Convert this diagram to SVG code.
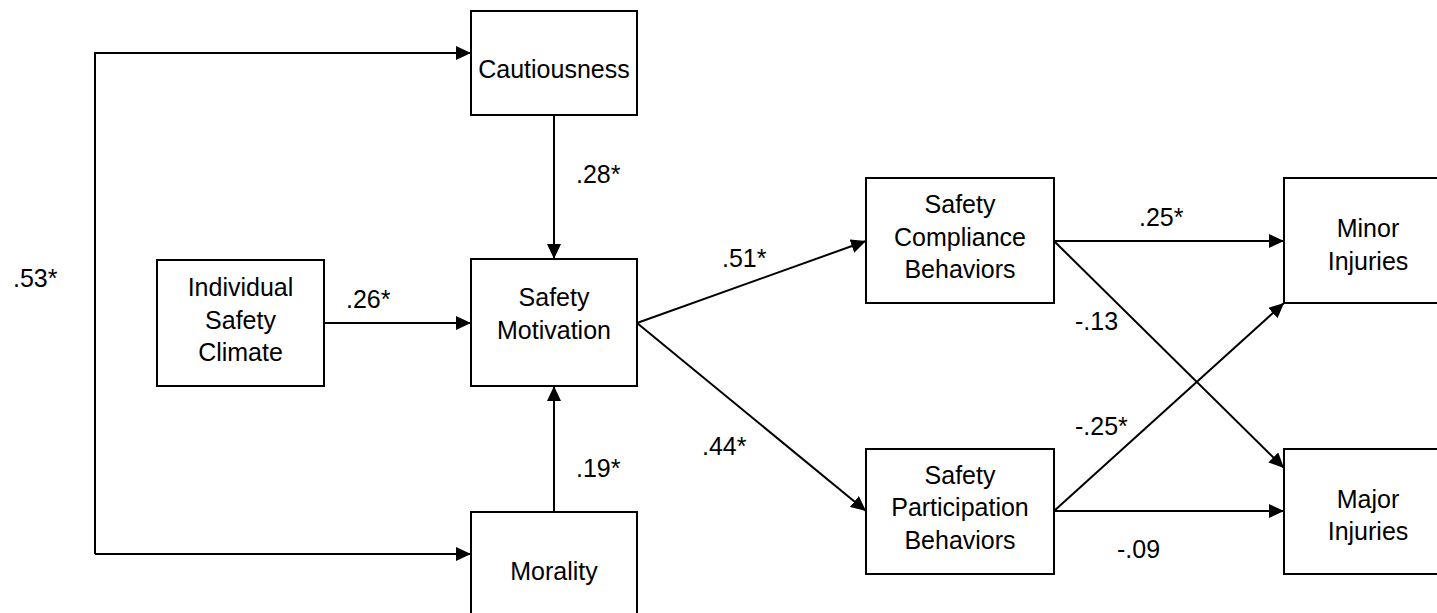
<svg xmlns="http://www.w3.org/2000/svg" width="1437" height="613" viewBox="0 0 1437 613">
  <style>
    .box { fill: #ffffff; stroke: #000000; stroke-width: 2; }
    .lbl { font-family: 'Liberation Sans', Arial, sans-serif; font-size: 25px; fill: #000000; }
    .ctr { text-anchor: middle; }
    .edge { fill: none; stroke: #000000; stroke-width: 2; marker-end: url(#arrow); }
  </style>
  <defs>
    <marker id="arrow" markerUnits="userSpaceOnUse" markerWidth="15" markerHeight="14" refX="15" refY="7" orient="auto">
      <path d="M0,0 L15,7 L0,14 Z" fill="#000000"/>
    </marker>
  </defs>
  <rect width="1437" height="613" fill="#ffffff"/>

  <!-- path connectors -->
  <g id="connectors">
    <path class="edge" d="M95,554 V53 H471"/>
    <path class="edge" d="M95,554 H471"/>
    <path class="edge" d="M554,115 V259"/>
    <path class="edge" d="M554,512 V386"/>
    <path class="edge" d="M324,323 H471"/>
    <path class="edge" d="M637,323 L866,241"/>
    <path class="edge" d="M637,323 L866,511"/>
    <path class="edge" d="M1054,241 H1284"/>
    <path class="edge" d="M1054,241 L1284,468"/>
    <path class="edge" d="M1054,511 L1284,303"/>
    <path class="edge" d="M1054,511 H1284"/>
  </g>

  <!-- path coefficients -->
  <g id="coefficients">
    <text class="lbl" x="13" y="287">.53*</text>
    <text class="lbl" x="576" y="183">.28*</text>
    <text class="lbl" x="346" y="308">.26*</text>
    <text class="lbl" x="576" y="477">.19*</text>
    <text class="lbl" x="722" y="267">.51*</text>
    <text class="lbl" x="702" y="455">.44*</text>
    <text class="lbl" x="1139" y="226">.25*</text>
    <text class="lbl" x="1075" y="330">-.13</text>
    <text class="lbl" x="1075" y="435">-.25*</text>
    <text class="lbl" x="1117" y="558">-.09</text>
  </g>

  <g id="cautiousness">
    <rect class="box" x="471" y="11" width="166" height="104"/>
    <text class="lbl ctr" x="554" y="78">Cautiousness</text>
  </g>

  <g id="individual-safety-climate">
    <rect class="box" x="157" y="260" width="167" height="126"/>
    <text class="lbl ctr" x="240.5" y="296">Individual</text>
    <text class="lbl ctr" x="240.5" y="328.5">Safety</text>
    <text class="lbl ctr" x="240.5" y="361">Climate</text>
  </g>

  <g id="safety-motivation">
    <rect class="box" x="471" y="259" width="166" height="127"/>
    <text class="lbl ctr" x="554" y="306">Safety</text>
    <text class="lbl ctr" x="554" y="339">Motivation</text>
  </g>

  <g id="morality">
    <rect class="box" x="471" y="512" width="166" height="104"/>
    <text class="lbl ctr" x="554" y="580">Morality</text>
  </g>

  <g id="safety-compliance">
    <rect class="box" x="866" y="178" width="188" height="125"/>
    <text class="lbl ctr" x="960" y="213">Safety</text>
    <text class="lbl ctr" x="960" y="245.5">Compliance</text>
    <text class="lbl ctr" x="960" y="278">Behaviors</text>
  </g>

  <g id="safety-participation">
    <rect class="box" x="866" y="449" width="188" height="125"/>
    <text class="lbl ctr" x="960" y="483.5">Safety</text>
    <text class="lbl ctr" x="960" y="516">Participation</text>
    <text class="lbl ctr" x="960" y="548.5">Behaviors</text>
  </g>

  <g id="minor-injuries">
    <rect class="box" x="1284" y="178" width="168" height="125"/>
    <text class="lbl ctr" x="1368" y="237">Minor</text>
    <text class="lbl ctr" x="1368" y="270">Injuries</text>
  </g>

  <g id="major-injuries">
    <rect class="box" x="1284" y="449" width="168" height="125"/>
    <text class="lbl ctr" x="1368" y="508">Major</text>
    <text class="lbl ctr" x="1368" y="540">Injuries</text>
  </g>
</svg>
